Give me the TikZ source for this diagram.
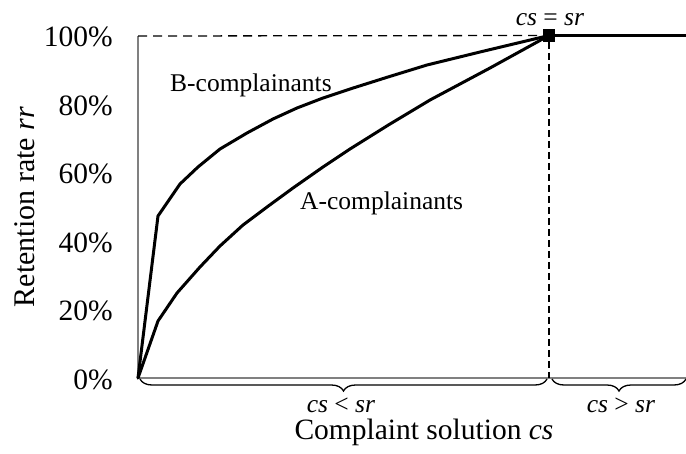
\documentclass[tikz,border=0pt]{standalone}
\usepackage{fontspec}
\setmainfont{Liberation Serif}
\usetikzlibrary{decorations.pathreplacing}
\begin{document}
\begin{tikzpicture}[x=1pt,y=-1pt,
  axisline/.style={draw=black!50,line width=1.5pt},
  curve/.style={draw=black,line width=3pt,line join=round,line cap=round},
  guide/.style={draw=black,line width=1.3pt,dash pattern=on 9pt off 6pt},
  vguide/.style={draw=black,line width=1.3pt,dash pattern=on 7pt off 4pt},
  tick/.style={anchor=east,inner sep=0pt,font=\fontsize{29.5}{34}\selectfont},
  lbl/.style={inner sep=0pt,font=\fontsize{25.5}{30}\selectfont},
  xtitle/.style={inner sep=0pt,font=\fontsize{29.5}{34}\selectfont},
  ytitle/.style={inner sep=0pt,font=\fontsize{30}{34}\selectfont},
  bracebox/.style={draw=black,line width=1.3pt,decorate,
    decoration={brace,mirror,amplitude=12pt}}]
\useasboundingbox (0,0) rectangle (686,453);

% axes
\coordinate (O) at (138,378);
\coordinate (Ytop) at (138,36);
\coordinate (Xend) at (686,378);
\node[fill=black,minimum size=12.5pt,inner sep=0pt] (P) at (549,35.5) {};
\coordinate (Pbase) at (549,378);
\coordinate (Rend) at (686,35.5);

\draw[axisline] (Ytop) -- (O) -- (Xend);

% guides to the saturation point
\draw[guide] (Ytop) -- (P.west);
\draw[vguide] (P.south) -- (Pbase);
\draw[curve,line cap=butt] (P.east) -- (Rend);

% retention curves
\draw[curve] (O) -- (158,216) -- (180,184) -- (198,167) -- (220,149) -- (247,133)
  -- (273,119) -- (297,108) -- (323,98) -- (350,89) -- (388,77) -- (427,65)
  -- (480,52) -- (P.center);
\draw[curve] (O) -- (158,321) -- (177,293) -- (200,267) -- (220,246) -- (243,225)
  -- (267,207) -- (293,188) -- (323,167) -- (350,149) -- (390,124) -- (430,100)
  -- (490,68) -- (P.center);

% y tick labels
\node[tick] (t100) at (113,37) {100\%};
\node[tick] (t80) at (113,105.5) {80\%};
\node[tick] (t60) at (113,174) {60\%};
\node[tick] (t40) at (113,242.5) {40\%};
\node[tick] (t20) at (113,311) {20\%};
\node[tick] (t0) at (113,379.5) {0\%};

% curve labels
\node[lbl,anchor=base west] (blab) at (170,91) {B-complainants};
\node[lbl,anchor=base west] (alab) at (300,209) {A-complainants};
\node[lbl,anchor=base] (eq) at (550,25) {\textit{cs} = \textit{sr}};

% regions below the axis
\coordinate (b1s) at (140,379);
\coordinate (b1e) at (547,379);
\coordinate (b2s) at (552,379);
\coordinate (b2e) at (686,379);
\draw[bracebox] (b1s) -- (b1e);
\draw[bracebox] (b2s) -- (b2e);
\node[lbl,anchor=base] (lt) at (341,412) {\textit{cs} < \textit{sr}};
\node[lbl,anchor=base] (gt) at (621,412) {\textit{cs} > \textit{sr}};

% axis titles
\node[xtitle,anchor=base] (xt) at (424,439) {Complaint solution \textit{cs}};
\node[ytitle,rotate=90] (yt) at (25,207) {Retention rate \textit{rr}};
\end{tikzpicture}
\end{document}
